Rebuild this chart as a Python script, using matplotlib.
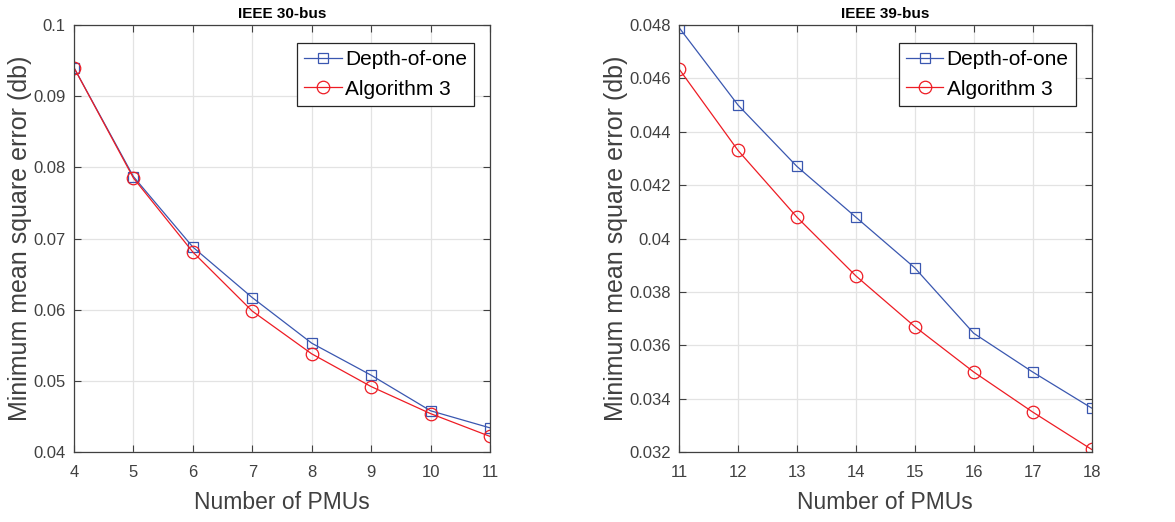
import matplotlib
matplotlib.use("Agg")
import matplotlib.pyplot as plt

plt.rcParams['font.family'] = ['Liberation Sans', 'DejaVu Sans']

# IEEE 30-bus
pmus_30 = [4, 5, 6, 7, 8, 9, 10, 11]
depth_30 = [0.0940, 0.0787, 0.0688, 0.0617, 0.0553, 0.0508, 0.0458, 0.0434]
alg3_30 = [0.0940, 0.0785, 0.0681, 0.0598, 0.0538, 0.0492, 0.0454, 0.0422]
yticks_30 = [0.04, 0.05, 0.06, 0.07, 0.08, 0.09, 0.1]
ylabels_30 = ['0.04', '0.05', '0.06', '0.07', '0.08', '0.09', '0.1']

# IEEE 39-bus
pmus_39 = [11, 12, 13, 14, 15, 16, 17, 18]
depth_39 = [0.0479, 0.0450, 0.0427, 0.0408, 0.0389, 0.03645, 0.0350, 0.03365]
alg3_39 = [0.04635, 0.0433, 0.0408, 0.0386, 0.0367, 0.0350, 0.0335, 0.0321]
yticks_39 = [0.032, 0.034, 0.036, 0.038, 0.04, 0.042, 0.044, 0.046, 0.048]
ylabels_39 = ['0.032', '0.034', '0.036', '0.038', '0.04', '0.042', '0.044', '0.046', '0.048']

blue = '#3a57b0'
red = '#ee1c24'
gray = '#404040'

fig = plt.figure(figsize=(11.75, 5.22), dpi=100)
ax1 = fig.add_axes([0.063, 0.134, 0.354, 0.818])
ax2 = fig.add_axes([0.578, 0.134, 0.351, 0.818])


def style(ax, x, d, a, yt, yl, title):
    ax.plot(x, d, color=blue, lw=0.9, marker='s', ms=7, mfc='none', mec=blue,
            mew=0.9, label='Depth-of-one')
    ax.plot(x, a, color=red, lw=0.9, marker='o', ms=9, mfc='none', mec=red,
            mew=0.9, label='Algorithm 3')
    ax.set_xlim(x[0], x[-1])
    ax.set_xticks(x)
    ax.set_ylim(yt[0], yt[-1])
    ax.set_yticks(yt)
    ax.set_yticklabels(yl)
    ax.grid(True, color='#e3e3e3', lw=0.9)
    ax.set_axisbelow(True)
    ax.tick_params(direction='in', top=True, right=True, length=5,
                   labelsize=12, colors=gray)
    ax.tick_params(axis='x', pad=9)
    ax.tick_params(axis='y', pad=6)
    for s in ax.spines.values():
        s.set_color(gray)
        s.set_linewidth(0.9)
    ax.set_xlabel('Number of PMUs', fontsize=16.5, color=gray, labelpad=8)
    ax.set_ylabel('Minimum mean square error (db)', fontsize=18, color=gray,
                  labelpad=1)
    ax.set_title(title, fontsize=11, fontweight='bold', pad=5)
    leg = ax.legend(loc='upper right', bbox_to_anchor=(0.962, 0.958),
                    fontsize=15, fancybox=False, framealpha=1,
                    edgecolor='#262626', handlelength=1.8, handletextpad=0.15,
                    borderpad=0.35, labelspacing=0.5, borderaxespad=0)
    leg.get_frame().set_linewidth(0.9)


style(ax1, pmus_30, depth_30, alg3_30, yticks_30, ylabels_30, 'IEEE 30-bus')
style(ax2, pmus_39, depth_39, alg3_39, yticks_39, ylabels_39, 'IEEE 39-bus')

fig.savefig('out.png', dpi=100)
